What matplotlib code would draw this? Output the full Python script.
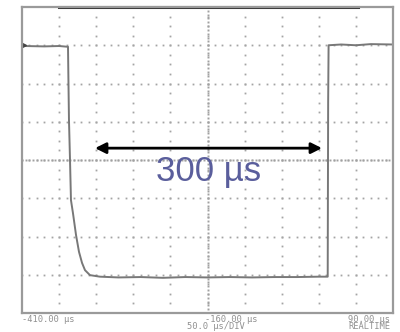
import matplotlib.pyplot as plt
import numpy as np

# time in µs, level in divisions (screen has 8 vertical divisions)
t_trace = [-406, -380, -360, -348, -347.5, -346.7, -345.3, -344, -341.3, -337.2,
           -333.2, -329.1, -325.1, -318.4, -305, -280, -250, -220, -190, -160,
           -130, -100, -70, -40, -10, 2.0, 2.6, 3.2, 20, 40, 60, 90]
v_trace = [6.98, 6.97, 6.98, 6.96, 6.2, 5.05, 4.0, 2.95, 2.61, 2.04,
           1.60, 1.31, 1.12, 0.99, 0.95, 0.93, 0.94, 0.92, 0.94, 0.93,
           0.94, 0.93, 0.94, 0.94, 0.95, 0.95, 5.5, 7.0, 7.02, 7.0, 7.03, 7.02]

t_start, t_end = -410, 90
arrow_from, arrow_to, arrow_level = -311.6, -5.7, 4.31
label_text = "300 \u00b5s"

fig = plt.figure(figsize=(4.0, 3.32), dpi=100)
ax = fig.add_axes([0.055, 0.0572, 0.9275, 0.9217])
ax.set_xlim(t_start, t_end)
ax.set_ylim(0, 8)
ax.set_xticks([])
ax.set_yticks([])
for s in ax.spines.values():
    s.set_color('#9a9a9a')
    s.set_linewidth(1.6)

# graticule: dotted lines
div_t = 50
grid_c = '#a4a4a4'
xs_fine = np.arange(t_start, t_end + 0.1, div_t / 5)
ys_fine = np.arange(0, 8.01, 0.25)
for v in range(1, 8):
    ax.plot(xs_fine, [v] * len(xs_fine), ls='none', marker='s', ms=1.3, color=grid_c, mew=0)
for k in range(1, 10):
    t = t_start + k * div_t
    ax.plot([t] * len(ys_fine), ys_fine, ls='none', marker='s', ms=1.3, color=grid_c, mew=0)
# center cross, denser
xs_c = np.arange(t_start, t_end + 0.1, div_t / 10)
ys_c = np.arange(0, 8.01, 0.1)
ax.plot(xs_c, [4] * len(xs_c), ls='none', marker='s', ms=1.4, color='#a0a0a0', mew=0)
ax.plot([-160] * len(ys_c), ys_c, ls='none', marker='s', ms=1.4, color='#a0a0a0', mew=0)

# dark bar on top
ax.axhline(8, xmin=0.1, xmax=0.905, color='#333333', lw=2.2, clip_on=False)

# trace
ax.plot(t_trace, v_trace, color='#787878', lw=1.4)
ax.plot([-408], [7.0], marker='>', ms=4, color='#444444')

# arrow + label
ax.annotate('', xy=(arrow_to, arrow_level), xytext=(arrow_from, arrow_level),
            arrowprops=dict(arrowstyle='<|-|>', color='black', lw=2, mutation_scale=16,
                            shrinkA=0, shrinkB=0))
ax.text(-158, 3.69, label_text, ha='center', va='center', fontsize=25,
        color='#5a5e9c', family='Liberation Sans')

# scope readouts
lab = dict(fontsize=6.3, color='#909090', family='DejaVu Sans Mono')
fig.text(22 / 400, 1 - 320 / 332, "-410.00 \u00b5s", ha='left', va='center', **lab)
fig.text(231 / 400, 1 - 319 / 332, "-160.00 \u00b5s", ha='center', va='center', **lab)
fig.text(216 / 400, 1 - 326.5 / 332, "50.0 \u00b5s/DIV", ha='center', va='center', **lab)
fig.text(390 / 400, 1 - 319 / 332, "90.00 \u00b5s", ha='right', va='center', **lab)
fig.text(390 / 400, 1 - 326.5 / 332, "REALTIME", ha='right', va='center', **lab)

fig.savefig('out.png', dpi=100)
